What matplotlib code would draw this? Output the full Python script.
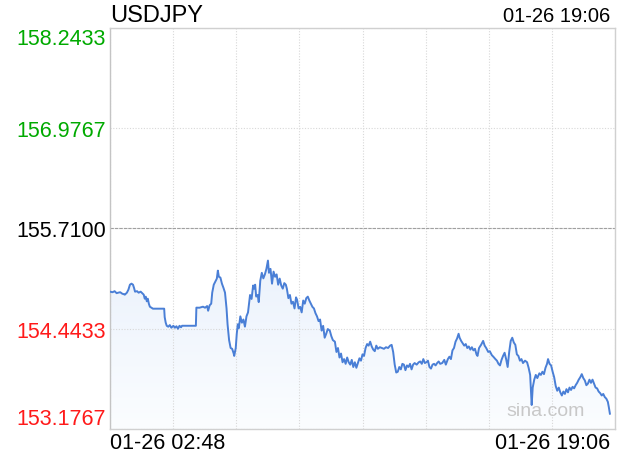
import numpy as np
import matplotlib.pyplot as plt
from matplotlib.patches import Polygon
from matplotlib.colors import LinearSegmentedColormap

plt.rcParams['font.family'] = ['Liberation Sans', 'DejaVu Sans']

symbol = "USDJPY"
stamp = "01-26 19:06"
start_label = "01-26 02:48"
end_label = "01-26 19:06"

# price levels shown on the y axis
levels = [153.1767, 154.4433, 155.7100, 156.9767, 158.2433]
level_colors = ["#ff1a1a", "#ff1a1a", "#000000", "#00aa00", "#00aa00"]
prev_close = 155.7100

# (minutes after 02:48, price)
ticks = [
    (0, 154.912), (5, 154.905), (9, 154.918), (13, 154.893), (16, 154.899),
    (20, 154.905), (24, 154.886), (27, 154.880), (29, 154.874), (33, 154.899),
    (36, 154.937), (39, 155.000), (42, 155.013), (45, 155.000), (47, 154.960),
    (49, 154.912), (53, 154.918), (56, 154.899), (60, 154.912), (63, 154.893),
    (66, 154.874), (68, 154.823), (70, 154.849), (72, 154.790), (74, 154.823),
    (76, 154.760), (78, 154.722), (81, 154.709), (84, 154.697), (100, 154.697),
    (106, 154.697), (107, 154.590), (109, 154.520), (111, 154.481), (114, 154.469),
    (117, 154.490), (120, 154.456), (124, 154.481), (127, 154.456), (130, 154.475),
    (133, 154.443), (136, 154.481), (139, 154.462), (141, 154.481), (168, 154.481),
    (169, 154.710), (175, 154.709), (182, 154.722), (186, 154.709), (190, 154.730),
    (192, 154.671), (195, 154.740), (198, 154.760), (200, 154.900), (203, 155.000),
    (206, 155.040), (209, 155.077), (211, 155.178), (213, 155.100), (216, 155.090),
    (219, 155.013), (222, 154.960), (225, 154.900), (228, 154.700), (230, 154.500),
    (233, 154.300), (236, 154.200), (239, 154.190), (242, 154.130), (243, 154.100),
    (246, 154.200), (248, 154.380), (250, 154.500), (252, 154.450), (255, 154.600),
    (258, 154.520), (261, 154.560), (264, 154.470), (267, 154.600), (270, 154.650),
    (274, 154.870), (277, 154.820), (280, 154.990), (282, 154.950), (284, 155.000),
    (286, 154.850), (289, 154.870), (291, 154.780), (294, 155.050), (297, 155.150),
    (300, 155.080), (303, 155.130), (306, 155.200), (309, 155.305), (311, 155.150),
    (314, 155.200), (317, 155.013), (320, 155.165), (323, 155.100), (326, 155.130),
    (329, 155.000), (332, 155.077), (335, 154.990), (338, 154.950), (341, 155.020),
    (344, 155.000), (346, 154.950), (349, 154.830), (352, 154.870), (355, 154.760),
    (358, 154.785), (361, 154.700), (364, 154.840), (366, 154.810), (369, 154.700),
    (372, 154.720), (375, 154.650), (378, 154.800), (381, 154.760), (384, 154.830),
    (387, 154.849), (390, 154.800), (393, 154.760), (396, 154.720), (399, 154.700),
    (402, 154.640), (405, 154.600), (408, 154.540), (411, 154.560), (414, 154.420),
    (417, 154.480), (420, 154.330), (423, 154.380), (426, 154.440), (430, 154.420),
    (433, 154.350), (436, 154.300), (440, 154.280), (443, 154.150), (446, 154.200),
    (449, 154.080), (452, 154.130), (455, 154.020), (458, 154.060), (461, 154.000),
    (464, 154.080), (467, 154.020), (470, 153.990), (473, 154.050), (476, 153.960),
    (479, 154.020), (482, 153.950), (485, 154.010), (488, 154.070), (491, 154.040),
    (494, 154.120), (497, 154.100), (500, 154.200), (503, 154.250), (506, 154.230),
    (509, 154.280), (512, 154.220), (515, 154.180), (518, 154.160), (521, 154.230),
    (524, 154.190), (528, 154.210), (532, 154.200), (536, 154.190), (540, 154.210),
    (544, 154.200), (548, 154.230), (551, 154.240), (554, 154.150), (557, 153.990),
    (560, 153.890), (563, 153.900), (566, 153.960), (569, 153.930), (572, 154.000),
    (575, 153.990), (578, 153.920), (581, 153.980), (584, 153.960), (587, 154.000),
    (590, 153.930), (593, 153.990), (596, 154.010), (600, 153.990), (604, 154.020),
    (607, 154.030), (610, 154.000), (613, 154.060), (616, 154.010), (619, 154.020),
    (622, 154.040), (625, 153.960), (628, 153.940), (631, 153.990), (634, 154.000),
    (637, 153.980), (640, 154.010), (643, 154.030), (646, 154.000), (650, 154.010),
    (654, 154.050), (657, 153.990), (661, 154.060), (664, 154.090), (667, 154.060),
    (670, 154.170), (673, 154.200), (676, 154.280), (679, 154.320), (682, 154.380),
    (684, 154.330), (687, 154.290), (690, 154.260), (693, 154.230), (696, 154.250),
    (699, 154.200), (702, 154.220), (705, 154.180), (708, 154.210), (711, 154.170),
    (714, 154.190), (717, 154.120), (719, 154.100), (722, 154.200), (726, 154.240),
    (730, 154.290), (733, 154.230), (736, 154.200), (740, 154.150), (743, 154.160),
    (747, 154.110), (750, 154.090), (754, 154.060), (757, 154.040), (760, 154.000),
    (763, 153.980), (766, 154.050), (769, 154.100), (772, 154.140), (775, 154.060),
    (778, 153.960), (781, 154.150), (784, 154.290), (787, 154.330), (790, 154.270),
    (793, 154.240), (796, 154.120), (799, 154.100), (802, 154.040), (805, 154.060),
    (808, 154.010), (812, 154.040), (816, 154.020), (819, 153.950), (822, 153.860),
    (824, 153.600), (825, 153.480), (827, 153.700), (830, 153.800), (833, 153.860),
    (836, 153.820), (840, 153.880), (843, 153.860), (846, 153.900), (849, 153.870),
    (852, 153.950), (855, 154.000), (857, 154.060), (860, 154.000), (863, 153.980),
    (866, 153.900), (869, 153.830), (872, 153.720), (875, 153.660), (878, 153.700),
    (881, 153.640), (884, 153.600), (887, 153.650), (890, 153.620), (893, 153.680),
    (896, 153.640), (899, 153.700), (902, 153.670), (905, 153.710), (908, 153.690),
    (911, 153.730), (914, 153.760), (917, 153.800), (920, 153.830), (923, 153.870),
    (926, 153.820), (929, 153.790), (932, 153.730), (935, 153.750), (938, 153.800),
    (941, 153.760), (944, 153.800), (947, 153.750), (950, 153.700), (953, 153.690),
    (956, 153.650), (959, 153.630), (962, 153.600), (965, 153.620), (968, 153.580),
    (971, 153.560), (974, 153.520), (976, 153.450), (978, 153.370),
]

minutes = np.array([t for t, _ in ticks], dtype=float)
prices = np.array([p for _, p in ticks])
x_max = 988

fig = plt.figure(figsize=(6.2, 4.6), dpi=100)
ax = fig.add_axes([110 / 620, 30 / 460, 505 / 620, 401 / 460])
ax.set_xlim(0, x_max)
ax.set_ylim(levels[0], levels[-1])

# soft gradient under the line
poly = Polygon(np.column_stack([np.r_[minutes, minutes[-1], minutes[0]],
                                np.r_[prices, levels[0], levels[0]]]),
               closed=True, facecolor='none', edgecolor='none')
ax.add_patch(poly)
grad = np.linspace(0, 1, 256).reshape(-1, 1)
cmap = LinearSegmentedColormap.from_list("fade", ["#fbfdff", "#ebf2fc"])
img = ax.imshow(grad, extent=[0, x_max, levels[0], prices.max()], origin='lower',
                aspect='auto', cmap=cmap, zorder=1)
img.set_clip_path(poly)

ax.plot(minutes, prices, color="#4a7fd6", lw=1.4, zorder=3)

# grid
ax.set_xticks(np.linspace(0, x_max, 9))
ax.set_yticks(levels)
ax.grid(True, color="#d8d8d8", ls=(0, (1, 1.5)), lw=0.8, zorder=0)
ax.axhline(prev_close, color="#a0a0a0", ls=(0, (3, 1)), lw=0.8, zorder=2)

ax.set_xticklabels([])
ax.set_yticklabels([f"{v:.4f}" for v in levels], fontsize=15.5)
ylabs = ax.get_yticklabels()
for lab, c in zip(ylabs, level_colors):
    lab.set_color(c)
ylabs[0].set_verticalalignment('bottom')
ylabs[-1].set_verticalalignment('top')
ax.tick_params(length=0, pad=3)

for sp in ax.spines.values():
    sp.set_color("#d0d0d0")
    sp.set_linewidth(1)
ax.spines['left'].set_color("#c4c4c4")

fig.text(110 / 620, 1 - 16 / 460, symbol, fontsize=17, ha='left', va='center')
fig.text(610 / 620, 1 - 17 / 460, stamp, fontsize=14.5, ha='right', va='center')
fig.text(110 / 620, 1 - 444 / 460, start_label, fontsize=15.5, ha='left', va='center')
fig.text(610 / 620, 1 - 444 / 460, end_label, fontsize=15.5, ha='right', va='center')
ax.text(0.94, 0.045, "sina.com", transform=ax.transAxes,
        fontsize=14, color="#c8c8c8", ha='right', va='center', zorder=4)

fig.savefig("out.png", dpi=100)
